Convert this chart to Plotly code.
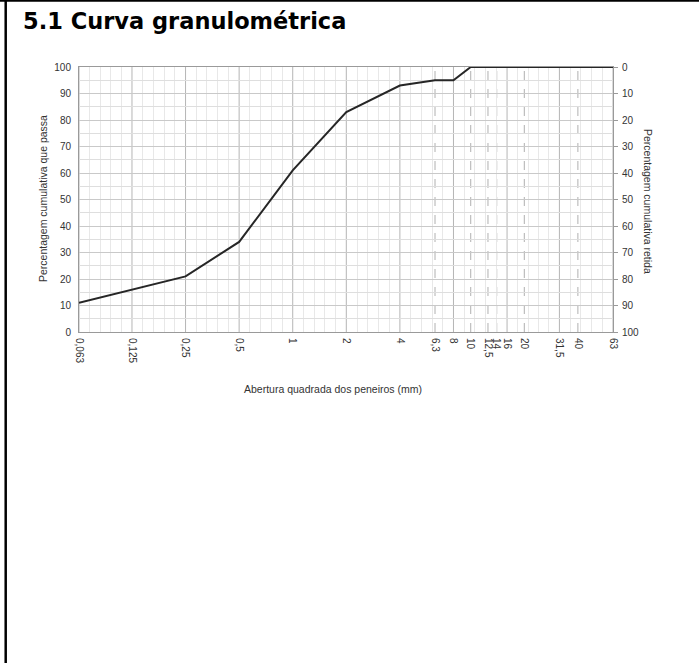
import math
import plotly.graph_objects as go

# ---- data ----
sieve_sizes = [0.063, 0.125, 0.25, 0.5, 1, 2, 4, 6.3, 8, 10, 12.5, 14, 16, 20, 31.5, 40, 63]
sieve_labels = ["0,063", "0,125", "0,25", "0,5", "1", "2", "4", "6,3", "8", "10",
                "12,5", "14", "16", "20", "31,5", "40", "63"]
solid_sizes = [0.063, 0.125, 0.25, 0.5, 1, 2, 4, 8, 16, 31.5, 63]
dashed_sizes = [6.3, 10, 12.5, 14, 20, 40]
passing = [11, 16, 21, 34, 61, 83, 93, 95, 95, 100, 100, 100, 100, 100, 100, 100, 100]
retained = [100 - p for p in passing]
y_ticks = list(range(0, 101, 10))

W, H = 699, 663
L, R, T, B = 79, 613, 67, 332
pw, ph = R - L, B - T

def px_x(px):
    return (px - L) / pw

def px_y(py):
    return (B - py) / ph

fig = go.Figure()
fig.add_trace(go.Scatter(x=sieve_sizes, y=passing, mode="lines",
                         line=dict(color="#262626", width=2), hoverinfo="skip",
                         showlegend=False))
fig.add_trace(go.Scatter(x=sieve_sizes, y=retained, mode="lines", yaxis="y2",
                         line=dict(color="rgba(0,0,0,0)", width=0), hoverinfo="skip",
                         showlegend=False))

# minor vertical grid positions (5 subdivisions per interval between solid lines)
minor_vals = []
for a, b in zip(solid_sizes[:-1], solid_sizes[1:]):
    la, lb = math.log10(a), math.log10(b)
    for k in range(1, 5):
        minor_vals.append(10 ** (la + (lb - la) * k / 5))

shapes = []
for s in solid_sizes:
    shapes.append(dict(type="line", xref="x", yref="paper", x0=s, x1=s, y0=0, y1=1,
                       line=dict(color="#b5b5b5", width=1), layer="below"))
for s in dashed_sizes:
    shapes.append(dict(type="line", xref="x", yref="paper", x0=s, x1=s, y0=0, y1=1,
                       line=dict(color="#b0b0b0", width=1, dash="dash"), layer="below"))
# page border (left and top)
shapes.append(dict(type="line", xref="paper", yref="paper", x0=px_x(5.7), x1=px_x(5.7),
                   y0=px_y(0), y1=px_y(H), line=dict(color="black", width=2.5)))
shapes.append(dict(type="line", xref="paper", yref="paper", x0=px_x(0), x1=px_x(W),
                   y0=px_y(0.8), y1=px_y(0.8), line=dict(color="black", width=2)))

tick_font = dict(family="Liberation Sans, Arial, sans-serif", size=10, color="#333333")

fig.update_layout(
    width=W, height=H,
    margin=dict(l=L, r=W - R, t=T, b=H - B),
    paper_bgcolor="white", plot_bgcolor="white",
    xaxis=dict(type="log", range=[math.log10(0.063), math.log10(63)],
               tickmode="array", tickvals=sieve_sizes, ticktext=sieve_labels,
               tickangle=90, tickfont=tick_font, showgrid=False, zeroline=False,
               showline=True, mirror=True, linecolor="#9a9a9a", linewidth=1,
               ticks="", ticklabelstandoff=3,
               minor=dict(tickmode="array", tickvals=minor_vals, showgrid=True,
                          gridcolor="#e8e8e8", gridwidth=1, ticks="")),
    yaxis=dict(range=[0, 100], tickmode="array", tickvals=y_ticks,
               tickfont=tick_font, showgrid=True, gridcolor="#c9c9c9", gridwidth=1,
               zeroline=False, showline=True, mirror=True, linecolor="#9a9a9a",
               ticks="", ticklabelstandoff=5,
               minor=dict(dtick=5, showgrid=True, gridcolor="#dedede", ticks="")),
    yaxis2=dict(range=[100, 0], overlaying="y", side="right", tickmode="array",
                tickvals=y_ticks, tickfont=tick_font, showgrid=False, zeroline=False,
                ticks="outside", ticklen=4, tickcolor="#9a9a9a", showline=False,
                ticklabelstandoff=2),
    shapes=shapes,
    annotations=[
        dict(text="<b>5.1 Curva granulométrica</b>", xref="paper", yref="paper",
             x=px_x(21), y=px_y(21), xanchor="left", yanchor="middle", showarrow=False,
             font=dict(family="DejaVu Sans, sans-serif", size=22.5, color="black")),
        dict(text="Percentagem cumulativa que passa", xref="paper", yref="paper",
             x=px_x(43), y=px_y(199), xanchor="center", yanchor="middle",
             textangle=-90, showarrow=False,
             font=dict(family="Liberation Sans, Arial, sans-serif", size=10.5, color="#333333")),
        dict(text="Percentagem cumulativa retida", xref="paper", yref="paper",
             x=px_x(648), y=px_y(201), xanchor="center", yanchor="middle",
             textangle=90, showarrow=False,
             font=dict(family="Liberation Sans, Arial, sans-serif", size=10.5, color="#333333")),
        dict(text="Abertura quadrada dos peneiros (mm)", xref="paper", yref="paper",
             x=px_x(333), y=px_y(389), xanchor="center", yanchor="middle",
             showarrow=False,
             font=dict(family="Liberation Sans, Arial, sans-serif", size=10.5, color="#333333")),
    ],
)

fig.write_html("out.html", config={"displayModeBar": False},
               post_script="document.body.style.margin='0';document.body.style.overflow='hidden';")
